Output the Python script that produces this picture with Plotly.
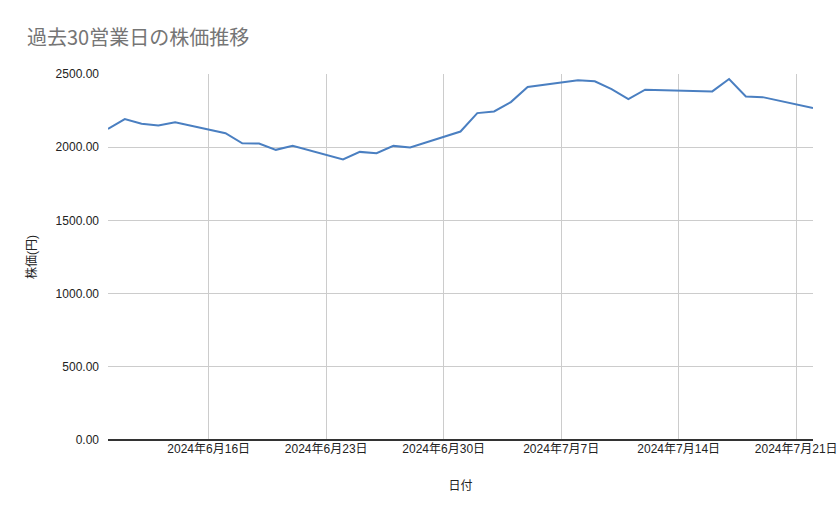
"""過去30営業日の株価推移 (line chart)."""

import plotly.graph_objects as go

# 営業日 (7/15 海の日は休場)
dates = [
    "2024-06-10", "2024-06-11", "2024-06-12", "2024-06-13", "2024-06-14",
    "2024-06-17", "2024-06-18", "2024-06-19", "2024-06-20", "2024-06-21",
    "2024-06-24", "2024-06-25", "2024-06-26", "2024-06-27", "2024-06-28",
    "2024-07-01", "2024-07-02", "2024-07-03", "2024-07-04", "2024-07-05",
    "2024-07-08", "2024-07-09", "2024-07-10", "2024-07-11", "2024-07-12",
    "2024-07-16", "2024-07-17", "2024-07-18", "2024-07-19", "2024-07-22",
]
prices = [
    2125, 2192, 2160, 2148, 2171,
    2096, 2027, 2025, 1982, 2009,
    1916, 1968, 1959, 2009, 1998,
    2107, 2233, 2244, 2308, 2411,
    2457, 2450, 2397, 2329, 2393,
    2381, 2466, 2347, 2342, 2267,
]

tick_dates = ["2024-06-16", "2024-06-23", "2024-06-30",
              "2024-07-07", "2024-07-14", "2024-07-21"]
tick_labels = ["2024年6月16日", "2024年6月23日", "2024年6月30日",
               "2024年7月7日", "2024年7月14日", "2024年7月21日"]
y_ticks = [0, 500, 1000, 1500, 2000, 2500]

FONT = "Liberation Sans, Arial, Noto Sans CJK JP, sans-serif"
W, H = 839, 519

fig = go.Figure()
fig.add_trace(go.Scatter(
    x=dates, y=prices, mode="lines",
    line=dict(color="#4a7fc1", width=2),
    name="株価",
))

fig.update_layout(
    width=W, height=H,
    margin=dict(l=108, r=26, t=74, b=79),
    paper_bgcolor="white", plot_bgcolor="white",
    showlegend=False,
    font=dict(family=FONT, size=12, color="#222222"),
    title=dict(
        text="過去30営業日の株価推移",
        x=27 / W, xanchor="left", y=1 - 38 / H, yanchor="middle",
        font=dict(family="Noto Sans CJK JP, sans-serif", size=20, color="#757575"),
    ),
)

fig.update_xaxes(
    range=["2024-06-10", "2024-07-22"],
    tickvals=tick_dates, ticktext=tick_labels,
    showgrid=True, gridcolor="#cccccc", gridwidth=1,
    showline=False, zeroline=False, ticks="", automargin=False,
    ticklabeloverflow="allow",
    tickfont=dict(size=12, color="#222222"),
    title=dict(text="日付", standoff=26, font=dict(size=12, color="#222222")),
)

fig.update_yaxes(
    range=[0, 2500],
    tickvals=y_ticks, tickformat=".2f",
    showgrid=True, gridcolor="#cccccc", gridwidth=1,
    zeroline=True, zerolinecolor="#333333", zerolinewidth=1.5,
    ticks="", ticklabelstandoff=8, automargin=False,
    tickfont=dict(size=12, color="#222222"),
    title=dict(text="株価(円)", standoff=16, font=dict(size=12, color="#222222")),
)

# drop the default 8px body margin so the figure fills the window
fig.write_html(
    "out.html",
    config={"displayModeBar": False},
    post_script="document.body.style.margin='0';",
)
